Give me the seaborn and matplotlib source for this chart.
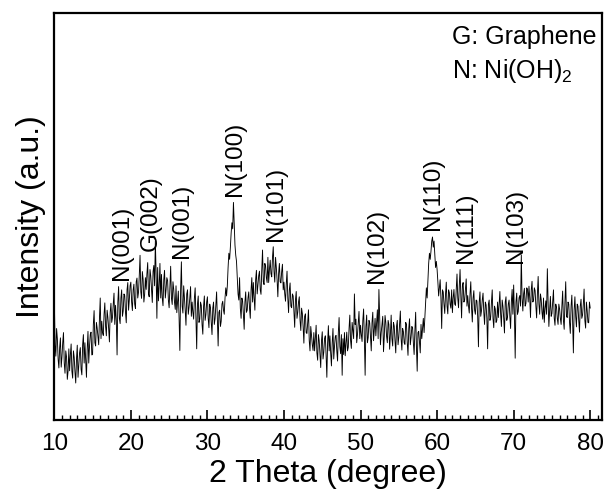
import numpy as np
import matplotlib.pyplot as plt
import seaborn as sns
from matplotlib.ticker import MultipleLocator

# scan grid, 2 theta from 10 to 80 deg, step 0.1
two_theta = np.round(np.linspace(10, 80, 701), 2)

# intensity (a.u.), one row per 2 degrees
intensity = [
    300, 185, 157, 225, 200, 150, 128, 178, 202, 130, 155, 190, 215, 140, 115, 170, 155, 100, 120, 175,  # 10
    121, 160, 187, 120, 103, 170, 154, 118, 91, 150, 184, 105, 136, 165, 178, 125, 111, 185, 210, 140,   # 12
    190, 150, 105, 175, 218, 140, 181, 210, 216, 160, 161, 235, 269, 190, 182, 240, 226, 205, 185, 250,  # 14
    300, 200, 243, 215, 208, 260, 288, 230, 207, 270, 252, 225, 192, 265, 287, 240, 252, 285, 312, 235,  # 16
    282, 245, 160, 290, 328, 250, 237, 300, 320, 255, 268, 310, 306, 265, 239, 320, 338, 270, 296, 330,  # 18
    339, 290, 269, 320, 334, 285, 274, 340, 349, 300, 314, 355, 405, 315, 299, 365, 346, 290, 309, 350,  # 20
    321, 360, 387, 310, 303, 370, 354, 320, 289, 365, 380, 330, 440, 360, 250, 375, 293, 330, 385, 300,  # 22
    358, 300, 281, 345, 368, 300, 321, 350, 343, 295, 276, 330, 378, 300, 284, 340, 321, 290, 272, 330,  # 24
    264, 290, 317, 250, 171, 320, 389, 280, 263, 330, 301, 270, 233, 310, 320, 260, 277, 300, 328, 255,  # 26
    290, 265, 248, 300, 325, 255, 175, 285, 305, 240, 248, 290, 282, 235, 211, 280, 305, 245, 259, 290,  # 28
    303, 250, 227, 285, 276, 240, 210, 275, 290, 235, 249, 280, 315, 250, 182, 265, 270, 230, 243, 285,  # 30
    292, 270, 260, 300, 325, 305, 330, 375, 410, 395, 425, 460, 485, 470, 535, 480, 430, 405, 390, 350,  # 32
    310, 295, 350, 275, 250, 300, 292, 260, 223, 290, 315, 265, 270, 300, 315, 275, 250, 320, 350, 290,  # 34
    338, 300, 270, 345, 368, 310, 332, 355, 366, 320, 309, 370, 418, 340, 333, 385, 378, 350, 338, 400,  # 36
    338, 370, 393, 360, 352, 400, 426, 365, 339, 400, 375, 345, 303, 360, 385, 340, 337, 365, 383, 320,  # 38
    339, 310, 292, 335, 366, 300, 264, 320, 337, 280, 276, 310, 305, 265, 228, 295, 316, 250, 265, 290,  # 40
    303, 245, 220, 275, 262, 230, 189, 255, 261, 215, 213, 240, 271, 195, 170, 230, 208, 185, 171, 215,  # 42
    170, 200, 233, 165, 147, 210, 195, 160, 129, 195, 217, 150, 167, 200, 207, 160, 105, 190, 232, 170,  # 44
    207, 165, 133, 190, 225, 150, 181, 205, 208, 170, 145, 215, 252, 180, 163, 210, 110, 200, 161, 215,  # 46
    158, 190, 216, 170, 179, 225, 258, 195, 176, 240, 219, 200, 310, 235, 248, 190, 210, 240, 267, 200,  # 48
    233, 210, 193, 245, 273, 200, 110, 230, 258, 190, 203, 245, 239, 205, 170, 240, 265, 195, 221, 250,  # 50
    207, 240, 271, 200, 321, 250, 185, 215, 234, 255, 168, 205, 257, 240, 206, 190, 245, 235, 174, 210,  # 52
    258, 200, 182, 240, 231, 195, 165, 230, 245, 185, 204, 235, 268, 200, 172, 225, 217, 190, 186, 240,  # 54
    235, 190, 159, 225, 249, 185, 203, 230, 227, 190, 161, 220, 265, 180, 120, 215, 218, 190, 165, 235,  # 56
    200, 225, 250, 215, 250, 290, 325, 300, 340, 385, 410, 395, 415, 440, 450, 425, 440, 405, 375, 390,  # 58
    370, 340, 305, 325, 345, 300, 225, 320, 315, 285, 262, 310, 339, 280, 261, 320, 313, 285, 275, 320,  # 60
    264, 300, 321, 285, 282, 320, 359, 300, 276, 330, 370, 305, 251, 330, 338, 290, 295, 320, 347, 280,  # 62
    306, 280, 263, 310, 340, 275, 241, 300, 318, 270, 260, 295, 293, 255, 180, 290, 315, 255, 269, 295,  # 64
    312, 265, 235, 290, 283, 250, 175, 285, 295, 245, 253, 290, 320, 250, 227, 280, 273, 240, 245, 290,  # 66
    252, 285, 316, 260, 230, 295, 280, 250, 214, 290, 303, 245, 254, 285, 295, 255, 225, 290, 321, 260,  # 68
    332, 260, 152, 290, 312, 260, 267, 300, 306, 280, 406, 300, 268, 310, 324, 280, 286, 325, 322, 290,  # 70
    329, 300, 252, 320, 341, 290, 294, 325, 318, 280, 251, 310, 353, 285, 260, 310, 296, 265, 248, 300,  # 72
    240, 275, 293, 260, 372, 290, 230, 270, 304, 255, 262, 290, 320, 250, 233, 285, 277, 250, 235, 285,  # 74
    273, 250, 235, 280, 317, 245, 223, 290, 340, 255, 252, 290, 285, 240, 213, 280, 307, 245, 165, 270,  # 76
    303, 255, 229, 285, 280, 245, 216, 280, 297, 250, 258, 285, 322, 245, 226, 290, 270, 240, 239, 290,  # 78
    275,                                                                                                 # 80
]

# peak labels: text, 2 theta, height of label foot
peak_labels = ['N(001)', 'G(002)', 'N(001)', 'N(100)', 'N(101)',
               'N(102)', 'N(110)', 'N(111)', 'N(103)']
peak_pos = [18.8, 22.6, 26.7, 33.6, 38.9, 52.1, 59.5, 63.8, 70.3]
peak_foot = [345, 415, 398, 550, 440, 337, 468, 386, 386]

sns.set_theme(style='white')
plt.rcParams['font.family'] = ['Liberation Sans', 'DejaVu Sans']
plt.rcParams['mathtext.fontset'] = 'custom'
plt.rcParams['mathtext.rm'] = 'Liberation Sans'

fig = plt.figure(figsize=(6.08, 4.92), dpi=100)
ax = fig.add_axes([0.0893, 0.1463, 0.9016, 0.8267])

sns.lineplot(x=two_theta, y=intensity, ax=ax, color='black',
             linewidth=0.65, estimator=None)

ax.set_xlim(10, 81.6)
ax.set_ylim(0, 1000)
ax.set_yticks([])
ax.xaxis.set_major_locator(MultipleLocator(10))
ax.xaxis.set_minor_locator(MultipleLocator(1))
ax.tick_params(axis='x', which='major', direction='in', length=7, width=1.2,
               bottom=True, top=False, labelsize=17.5, pad=9.5, colors='black')
ax.tick_params(axis='x', which='minor', direction='in', length=3.5, width=1,
               bottom=True, top=False, colors='black')
for sp in ax.spines.values():
    sp.set_color('black')
    sp.set_linewidth(1.6)

ax.set_xlabel('2 Theta (degree)', fontsize=23, labelpad=3, color='black')
ax.set_ylabel('Intensity (a.u.)', fontsize=23, labelpad=6, color='black')

for lab, x, y in zip(peak_labels, peak_pos, peak_foot):
    ax.text(x, y, lab, rotation=90, ha='center', va='bottom',
            fontsize=17.5, color='black')

ax.text(61.9, 972, 'G: Graphene', ha='left', va='top', fontsize=18,
        color='black')
ax.text(61.9, 892, r'N: Ni(OH)$_2$', ha='left', va='top', fontsize=18,
        color='black')

fig.savefig('out.png', dpi=100)
